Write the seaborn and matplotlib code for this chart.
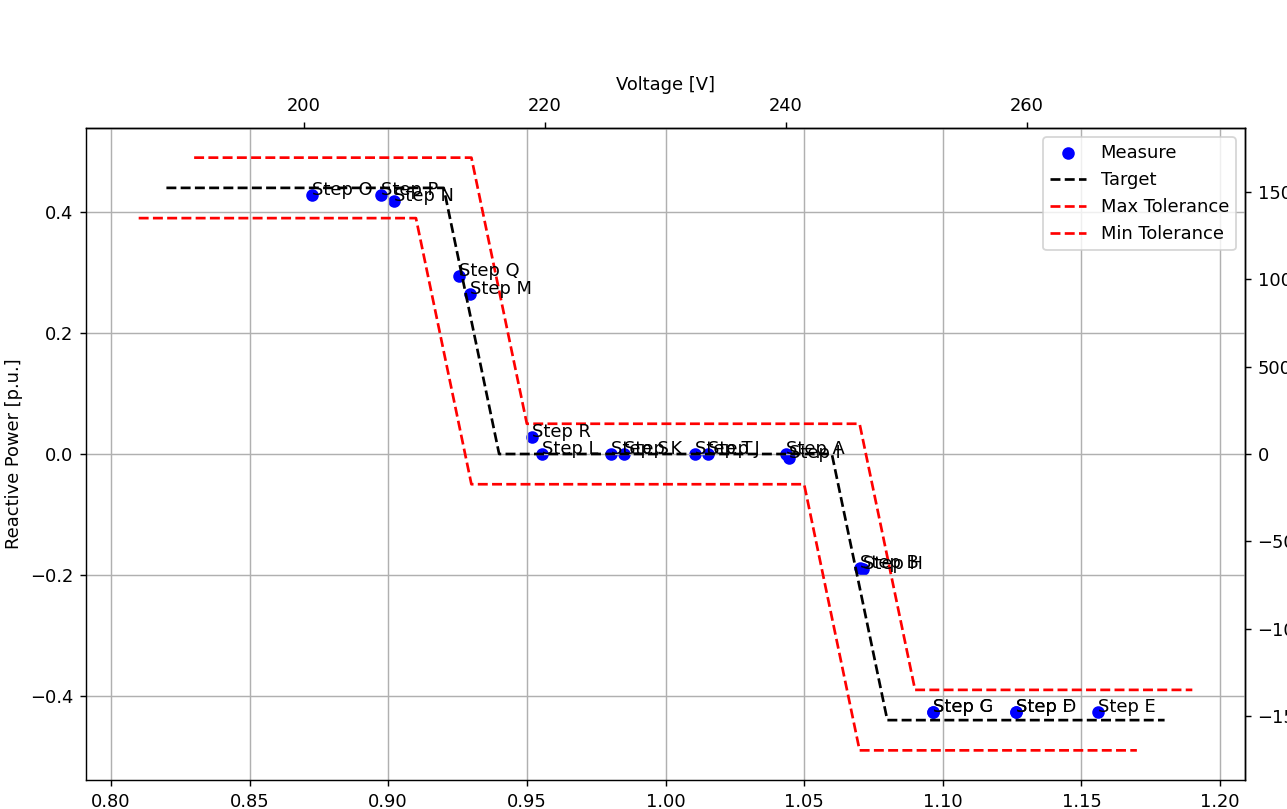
import matplotlib
matplotlib.use("Agg")
import matplotlib.pyplot as plt
import seaborn as sns

# Volt-var characteristic (per unit)
target_v = [0.82, 0.92, 0.94, 1.06, 1.08, 1.18]
target_q = [0.44, 0.44, 0.00, 0.00, -0.44, -0.44]

max_tol_v = [0.83, 0.93, 0.95, 1.07, 1.09, 1.19]
max_tol_q = [0.49, 0.49, 0.05, 0.05, -0.39, -0.39]

min_tol_v = [0.81, 0.91, 0.93, 1.05, 1.07, 1.17]
min_tol_q = [0.39, 0.39, -0.05, -0.05, -0.49, -0.49]

# Measured steps
step_names = ["Step A", "Step B", "Step C", "Step D", "Step E", "Step F", "Step G",
              "Step H", "Step I", "Step J", "Step K", "Step L", "Step M", "Step N",
              "Step O", "Step P", "Step Q", "Step R", "Step S", "Step T"]
meas_v = [1.0433, 1.0700, 1.0964, 1.1264, 1.1560, 1.1264, 1.0964,
          1.0711, 1.0444, 1.0155, 0.9852, 0.9556, 0.9296, 0.9022,
          0.8726, 0.8975, 0.9256, 0.9520, 0.9805, 1.0105]
meas_q = [0.000, -0.188, -0.426, -0.426, -0.426, -0.426, -0.426,
          -0.190, -0.007, 0.000, 0.000, 0.000, 0.264, 0.418,
          0.428, 0.428, 0.295, 0.028, 0.000, 0.000]

V_NOMINAL = 230.0   # V
S_RATED = 3464.0    # var

DPI = 129
fig, ax = plt.subplots(figsize=(1287 / DPI, 809 / DPI), dpi=DPI)
ax.set_position([86 / 1287, 1 - 780 / 809, (1245 - 86) / 1287, (780 - 128) / 809])

sns.scatterplot(x=meas_v, y=meas_q, color="blue", s=36, edgecolor="blue",
                linewidth=1, label="Measure", ax=ax)
sns.lineplot(x=target_v, y=target_q, color="black", linestyle="--",
             label="Target", sort=False, estimator=None, ax=ax)
sns.lineplot(x=max_tol_v, y=max_tol_q, color="red", linestyle="--",
             label="Max Tolerance", sort=False, estimator=None, ax=ax)
sns.lineplot(x=min_tol_v, y=min_tol_q, color="red", linestyle="--",
             label="Min Tolerance", sort=False, estimator=None, ax=ax)

for v, q, name in zip(meas_v, meas_q, step_names):
    ax.text(v, q, name, fontsize=10)

ax.grid(True, color="#b0b0b0", linewidth=0.8)
ax.set_ylabel("Reactive Power [p.u.]")
ax.set_xlabel("")

secx = ax.secondary_xaxis("top", functions=(lambda x: x * V_NOMINAL,
                                            lambda v: v / V_NOMINAL))
secx.set_xlabel("Voltage [V]")
secy = ax.secondary_yaxis("right", functions=(lambda q: q * S_RATED,
                                              lambda s: s / S_RATED))

ax.legend(loc="upper right")

fig.savefig("out.png", dpi=DPI)
